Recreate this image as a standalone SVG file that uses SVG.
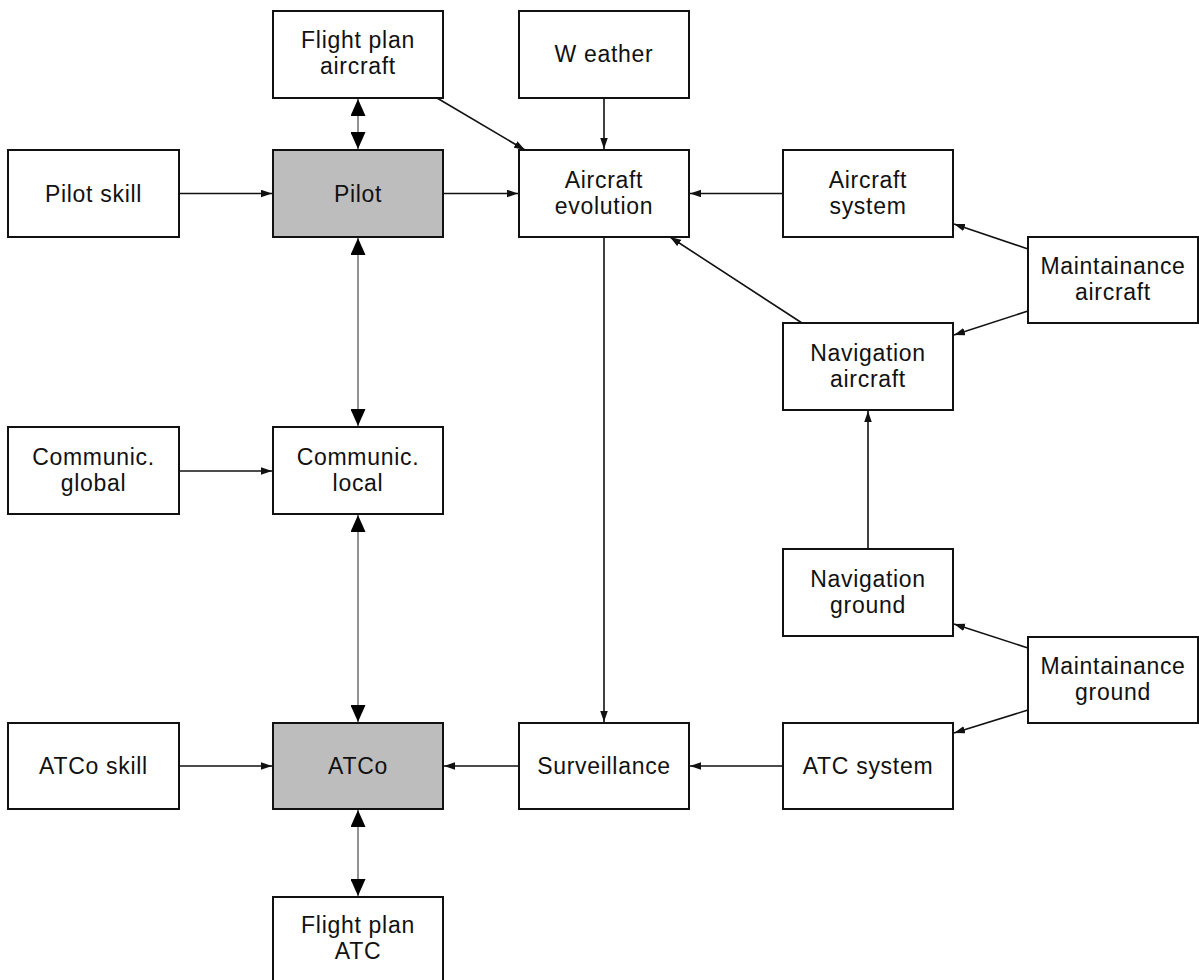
<svg xmlns="http://www.w3.org/2000/svg" width="1199" height="980" viewBox="0 0 1199 980">
<style>
.box{fill:#ffffff;stroke:#111111;stroke-width:2}
.gray{fill:#bdbdbd}
.lbl{font-family:"Liberation Sans",Arial,sans-serif;font-size:23px;letter-spacing:0.7px;fill:#111111;text-anchor:middle}
.c{fill:none;stroke:#111111;stroke-width:1.6}
.d{fill:none;stroke:#777777;stroke-width:1.6}
</style>
<defs>
<marker id="a" markerUnits="userSpaceOnUse" markerWidth="11" markerHeight="8" refX="11" refY="3.75" orient="auto"><path d="M0,0 L11,3.75 L0,7.5 z" fill="#111111"/></marker>
<marker id="b" markerUnits="userSpaceOnUse" markerWidth="17" markerHeight="15" refX="17" refY="7.5" orient="auto-start-reverse"><path d="M0,0 L17,7.5 L0,15 z" fill="#000000"/></marker>
</defs>
<rect width="1199" height="980" fill="#ffffff"/>
<g id="connectors">
<line class="d" x1="358" y1="99" x2="358" y2="149" marker-start="url(#b)" marker-end="url(#b)"/>
<line class="c" x1="437" y1="98" x2="525" y2="150" marker-end="url(#a)"/>
<line class="c" x1="604" y1="98" x2="604" y2="149" marker-end="url(#a)"/>
<line class="c" x1="179" y1="193.5" x2="272" y2="193.5" marker-end="url(#a)"/>
<line class="c" x1="443" y1="193.5" x2="518" y2="193.5" marker-end="url(#a)"/>
<line class="c" x1="783" y1="193.5" x2="690" y2="193.5" marker-end="url(#a)"/>
<line class="c" x1="1028" y1="249" x2="954" y2="224" marker-end="url(#a)"/>
<line class="c" x1="1028" y1="311" x2="954" y2="335" marker-end="url(#a)"/>
<line class="c" x1="802" y1="323" x2="670" y2="237" marker-end="url(#a)"/>
<line class="c" x1="604" y1="237" x2="604" y2="722" marker-end="url(#a)"/>
<line class="d" x1="358" y1="238" x2="358" y2="426" marker-start="url(#b)" marker-end="url(#b)"/>
<line class="c" x1="179" y1="471" x2="272" y2="471" marker-end="url(#a)"/>
<line class="d" x1="358" y1="515" x2="358" y2="722" marker-start="url(#b)" marker-end="url(#b)"/>
<line class="c" x1="868" y1="548" x2="868" y2="411" marker-end="url(#a)"/>
<line class="c" x1="1028" y1="648" x2="954" y2="624" marker-end="url(#a)"/>
<line class="c" x1="1028" y1="710" x2="954" y2="733" marker-end="url(#a)"/>
<line class="c" x1="179" y1="766" x2="272" y2="766" marker-end="url(#a)"/>
<line class="c" x1="519" y1="766" x2="444" y2="766" marker-end="url(#a)"/>
<line class="c" x1="783" y1="766" x2="690" y2="766" marker-end="url(#a)"/>
<line class="d" x1="358" y1="810" x2="358" y2="896" marker-start="url(#b)" marker-end="url(#b)"/>
</g>
<g id="fp_aircraft"><rect class="box" x="273" y="11" width="170" height="87"/><text class="lbl" x="358" y="48">Flight plan</text><text class="lbl" x="358" y="74">aircraft</text></g>
<g id="weather"><rect class="box" x="519" y="11" width="170" height="87"/><text class="lbl" x="604" y="62">W eather</text></g>
<g id="pilot_skill"><rect class="box" x="8" y="150" width="171" height="87"/><text class="lbl" x="93.5" y="201.5">Pilot skill</text></g>
<g id="pilot"><rect class="box gray" x="273" y="150" width="170" height="87"/><text class="lbl" x="358" y="201.5">Pilot</text></g>
<g id="aircraft_evolution"><rect class="box" x="519" y="150" width="170" height="87"/><text class="lbl" x="604" y="187.5">Aircraft</text><text class="lbl" x="604" y="213.5">evolution</text></g>
<g id="aircraft_system"><rect class="box" x="783" y="150" width="170" height="87"/><text class="lbl" x="868" y="187.5">Aircraft</text><text class="lbl" x="868" y="213.5">system</text></g>
<g id="maint_aircraft"><rect class="box" x="1028" y="237" width="170" height="86"/><text class="lbl" x="1113" y="274">Maintainance</text><text class="lbl" x="1113" y="300">aircraft</text></g>
<g id="nav_aircraft"><rect class="box" x="783" y="323" width="170" height="87"/><text class="lbl" x="868" y="360.5">Navigation</text><text class="lbl" x="868" y="386.5">aircraft</text></g>
<g id="comm_global"><rect class="box" x="8" y="427" width="171" height="87"/><text class="lbl" x="93.5" y="464.5">Communic.</text><text class="lbl" x="93.5" y="490.5">global</text></g>
<g id="comm_local"><rect class="box" x="273" y="427" width="170" height="87"/><text class="lbl" x="358" y="464.5">Communic.</text><text class="lbl" x="358" y="490.5">local</text></g>
<g id="nav_ground"><rect class="box" x="783" y="549" width="170" height="87"/><text class="lbl" x="868" y="586.5">Navigation</text><text class="lbl" x="868" y="612.5">ground</text></g>
<g id="maint_ground"><rect class="box" x="1028" y="637" width="170" height="86"/><text class="lbl" x="1113" y="674">Maintainance</text><text class="lbl" x="1113" y="700">ground</text></g>
<g id="atco_skill"><rect class="box" x="8" y="723" width="171" height="86"/><text class="lbl" x="93.5" y="774">ATCo skill</text></g>
<g id="atco"><rect class="box gray" x="273" y="723" width="170" height="86"/><text class="lbl" x="358" y="774">ATCo</text></g>
<g id="surveillance"><rect class="box" x="519" y="723" width="170" height="86"/><text class="lbl" x="604" y="774">Surveillance</text></g>
<g id="atc_system"><rect class="box" x="783" y="723" width="170" height="86"/><text class="lbl" x="868" y="774">ATC system</text></g>
<g id="fp_atc"><rect class="box" x="273" y="897" width="170" height="87"/><text class="lbl" x="358" y="933">Flight plan</text><text class="lbl" x="358" y="959">ATC</text></g>
</svg>
